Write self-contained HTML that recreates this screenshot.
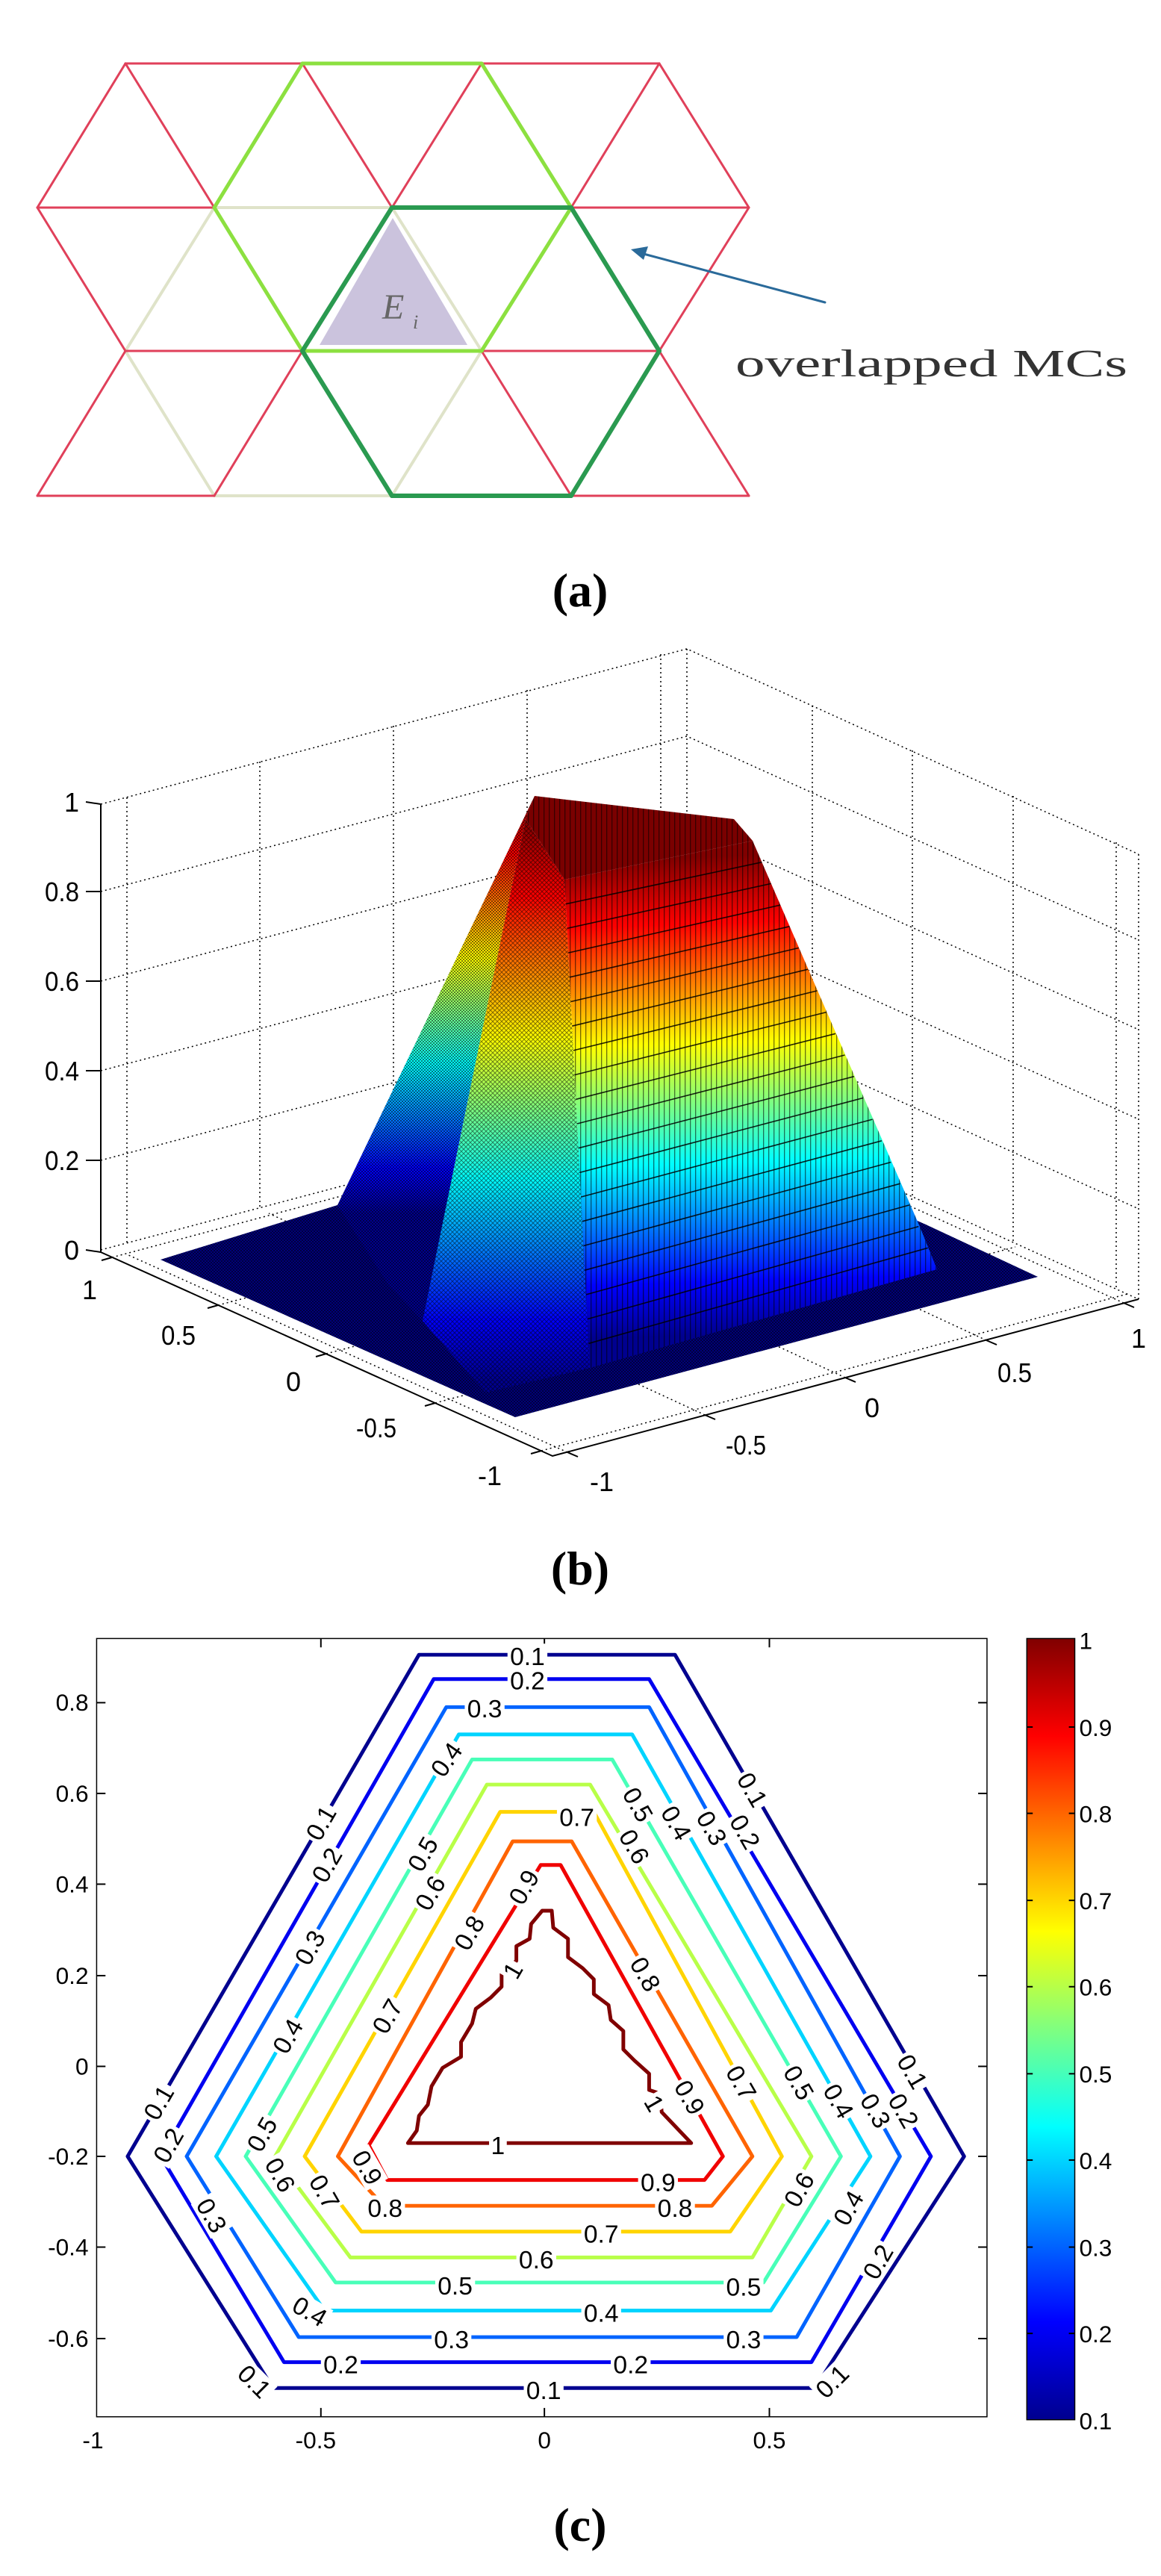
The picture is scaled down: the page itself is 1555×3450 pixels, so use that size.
<!DOCTYPE html>
<html><head><meta charset="utf-8">
<style>html,body{margin:0;padding:0;background:#fff}svg{display:block}</style>
</head><body>
<svg xmlns="http://www.w3.org/2000/svg" width="1555" height="3450" viewBox="0 0 1555 3450">
<defs>
<linearGradient id="jetL" gradientUnits="userSpaceOnUse" x1="0" y1="1625" x2="0" y2="1066">
<stop offset="0" stop-color="#00008F"/><stop offset="0.11" stop-color="#0000FF"/><stop offset="0.36" stop-color="#00FFFF"/><stop offset="0.61" stop-color="#FFFF00"/><stop offset="0.86" stop-color="#FF0000"/><stop offset="1" stop-color="#800000"/></linearGradient>
<linearGradient id="jetM" gradientUnits="userSpaceOnUse" x1="0" y1="1850" x2="0" y2="1097">
<stop offset="0" stop-color="#00008F"/><stop offset="0.11" stop-color="#0000FF"/><stop offset="0.36" stop-color="#00FFFF"/><stop offset="0.61" stop-color="#FFFF00"/><stop offset="0.86" stop-color="#FF0000"/><stop offset="1" stop-color="#800000"/></linearGradient>
<linearGradient id="jetF" gradientUnits="userSpaceOnUse" x1="880" y1="1790" x2="860" y2="1150">
<stop offset="0" stop-color="#00008F"/><stop offset="0.11" stop-color="#0000FF"/><stop offset="0.36" stop-color="#00FFFF"/><stop offset="0.61" stop-color="#FFFF00"/><stop offset="0.86" stop-color="#FF0000"/><stop offset="1" stop-color="#800000"/></linearGradient>
<linearGradient id="cbar" x1="0" y1="1" x2="0" y2="0">
<stop offset="0" stop-color="#00008F"/><stop offset="0.125" stop-color="#0000FF"/><stop offset="0.375" stop-color="#00FFFF"/><stop offset="0.625" stop-color="#FFFF00"/><stop offset="0.875" stop-color="#FF0000"/><stop offset="1" stop-color="#800000"/></linearGradient>
<pattern id="vl" width="7" height="7" patternUnits="userSpaceOnUse"><rect width="1.3" height="7" fill="#000" opacity="0.55"/></pattern>
<pattern id="xh" width="6" height="6" patternUnits="userSpaceOnUse"><path d="M0,0L6,6M6,0L0,6" stroke="#000" stroke-width="1" opacity="0.5"/></pattern>
<pattern id="dk" width="4" height="4" patternUnits="userSpaceOnUse"><rect width="2" height="2" fill="#000" opacity="0.5"/><rect x="2" y="2" width="2" height="2" fill="#000" opacity="0.5"/></pattern>
</defs>

<!-- (a) -->
<g stroke-linecap="round" fill="none">
<polygon points="526,292 428,462 626,462" fill="#cbc3dd" stroke="none"/>
<!-- pale -->
<g stroke="#dfe3c9" stroke-width="4">
<line x1="287" y1="278" x2="525" y2="278"/><line x1="287" y1="664" x2="525" y2="664"/>
<line x1="287" y1="278" x2="168" y2="470"/><line x1="525" y1="278" x2="645" y2="470"/>
<line x1="168" y1="470" x2="287" y2="664"/><line x1="645" y1="470" x2="525" y2="664"/>
</g>
<g stroke="#e0405a" stroke-width="3">
<line x1="168" y1="85" x2="405" y2="85"/><line x1="645" y1="85" x2="883" y2="85"/>
<line x1="50" y1="278" x2="287" y2="278"/><line x1="765" y1="278" x2="1003" y2="278"/>
<line x1="168" y1="470" x2="405" y2="470"/><line x1="645" y1="470" x2="883" y2="470"/>
<line x1="50" y1="664" x2="287" y2="664"/><line x1="765" y1="664" x2="1003" y2="664"/>
<line x1="168" y1="85" x2="50" y2="278"/><line x1="168" y1="85" x2="287" y2="278"/>
<line x1="405" y1="85" x2="525" y2="278"/><line x1="645" y1="85" x2="525" y2="278"/>
<line x1="883" y1="85" x2="765" y2="278"/><line x1="883" y1="85" x2="1003" y2="278"/>
<line x1="50" y1="278" x2="168" y2="470"/><line x1="1003" y1="278" x2="883" y2="470"/>
<line x1="168" y1="470" x2="50" y2="664"/><line x1="405" y1="470" x2="287" y2="664"/>
<line x1="645" y1="470" x2="765" y2="664"/><line x1="883" y1="470" x2="1003" y2="664"/>
</g>
<g stroke="#8ce040" stroke-width="5">
<line x1="405" y1="85" x2="645" y2="85"/><line x1="405" y1="470" x2="645" y2="470"/>
<line x1="405" y1="85" x2="287" y2="278"/><line x1="645" y1="85" x2="765" y2="278"/>
<line x1="287" y1="278" x2="405" y2="470"/><line x1="765" y1="278" x2="645" y2="470"/>
</g>
<g stroke="#2a9a50" stroke-width="6">
<line x1="525" y1="278" x2="765" y2="278"/><line x1="525" y1="664" x2="765" y2="664"/>
<line x1="525" y1="278" x2="405" y2="470"/><line x1="765" y1="278" x2="883" y2="470"/>
<line x1="405" y1="470" x2="525" y2="664"/><line x1="883" y1="470" x2="765" y2="664"/>
</g>
<line x1="1105" y1="405" x2="862" y2="340" stroke="#2a6a9a" stroke-width="3"/>
</g>
<polygon points="845,334 868,330 862,348" fill="#2a6a9a"/>
<text x="512" y="427" font-family="Liberation Serif, serif" font-style="italic" font-size="48" fill="#666">E</text>
<text x="553" y="440" font-family="Liberation Serif, serif" font-style="italic" font-size="26" fill="#666">i</text>
<text x="985" y="504" font-family="Liberation Serif, serif" font-size="52" fill="#333" textLength="525" lengthAdjust="spacingAndGlyphs">overlapped MCs</text>
<text x="777" y="812" text-anchor="middle" font-family="Liberation Serif, serif" font-weight="bold" font-size="64">(a)</text>

<!-- (b) -->
<g stroke="#000" stroke-width="1.5" stroke-dasharray="2,4" fill="none">
<polyline points="135,1077 920,869 1525,1144"/>
<polyline points="135,1194 920,986 1525,1259"/>
<polyline points="135,1314 920,1106 1525,1379"/>
<polyline points="135,1434 920,1226 1525,1499"/>
<polyline points="135,1554 920,1346 1525,1619"/>
<polyline points="135,1674 920,1466 1525,1740"/>
<line x1="920" y1="869" x2="920" y2="1467"/>
<line x1="170" y1="1068" x2="170" y2="1668"/><line x1="348" y1="1020" x2="348" y2="1620"/>
<line x1="527" y1="972" x2="527" y2="1572"/><line x1="706" y1="924" x2="706" y2="1524"/>
<line x1="885" y1="876" x2="885" y2="1476"/>
<line x1="1088" y1="945" x2="1088" y2="1543"/><line x1="1222" y1="1005" x2="1222" y2="1603"/>
<line x1="1357" y1="1066" x2="1357" y2="1664"/><line x1="1495" y1="1128" x2="1495" y2="1726"/>
<line x1="1525" y1="1144" x2="1525" y2="1740"/>
<line x1="150" y1="1684" x2="935" y2="1474"/><line x1="1505" y1="1745" x2="920" y2="1480"/>
<line x1="760" y1="1945" x2="170" y2="1680"/><line x1="725" y1="1943" x2="1510" y2="1733"/>
<line x1="944" y1="1895" x2="360" y2="1625"/><line x1="1132" y1="1845" x2="550" y2="1575"/>
<line x1="1321" y1="1795" x2="740" y2="1525"/>
<line x1="292" y1="1748" x2="1085" y2="1540"/><line x1="437" y1="1813" x2="1225" y2="1605"/>
<line x1="583" y1="1879" x2="1360" y2="1670"/>
</g>
<!-- surface -->
<polygon points="215,1687 452,1614 900,1490 1240,1640 1390,1710 690,1898" fill="#00007a"/>
<polygon points="215,1687 452,1614 900,1490 1240,1640 1390,1710 690,1898" fill="url(#dk)"/>
<polygon points="452,1614 716,1066 704,1097 566,1769 520,1720" fill="url(#jetL)"/>
<polygon points="452,1614 716,1066 704,1097 566,1769 520,1720" fill="url(#dk)"/>
<polygon points="704,1097 756,1178 790,1832 650,1865 566,1769" fill="url(#jetM)"/>
<polygon points="704,1097 756,1178 790,1832 650,1865 566,1769" fill="url(#xh)"/>
<polygon points="756,1178 1008,1126 1232,1643 1255,1700 790,1832" fill="url(#jetF)"/>
<polygon points="756,1178 1008,1126 1232,1643 1255,1700 790,1832" fill="url(#vl)"/>
<g stroke="#000" stroke-width="1.6" opacity="0.85">
<line x1="757.7" y1="1210.7" x2="1020.4" y2="1154.7"/><line x1="759.4" y1="1243.4" x2="1032.7" y2="1183.4"/>
<line x1="761.1" y1="1276.1" x2="1045.1" y2="1212.1"/><line x1="762.8" y1="1308.8" x2="1057.4" y2="1240.8"/>
<line x1="764.5" y1="1341.5" x2="1069.8" y2="1269.5"/><line x1="766.2" y1="1374.2" x2="1082.1" y2="1298.2"/>
<line x1="767.9" y1="1406.9" x2="1094.5" y2="1326.9"/><line x1="769.6" y1="1439.6" x2="1106.8" y2="1355.6"/>
<line x1="771.3" y1="1472.3" x2="1119.2" y2="1384.3"/><line x1="773" y1="1505" x2="1131.5" y2="1413"/>
<line x1="774.7" y1="1537.7" x2="1143.9" y2="1441.7"/><line x1="776.4" y1="1570.4" x2="1156.2" y2="1470.4"/>
<line x1="778.1" y1="1603.1" x2="1168.6" y2="1499.1"/><line x1="779.8" y1="1635.8" x2="1180.9" y2="1527.8"/>
<line x1="781.5" y1="1668.5" x2="1193.3" y2="1556.5"/><line x1="783.2" y1="1701.2" x2="1205.6" y2="1585.2"/>
<line x1="784.9" y1="1733.9" x2="1218" y2="1613.9"/><line x1="786.6" y1="1766.6" x2="1230.3" y2="1642.6"/>
<line x1="788.3" y1="1799.3" x2="1242.7" y2="1671.3"/>
</g>
<polygon points="716,1066 983,1097 1008,1126 756,1178 704,1097" fill="#7a0000"/>
<polygon points="716,1066 983,1097 1008,1126 756,1178 704,1097" fill="url(#vl)"/>
<!-- solid axes -->
<g stroke="#000" stroke-width="2" fill="none">
<polyline points="135,1077 135,1677 740,1950 1525,1740"/>
<line x1="115" y1="1074" x2="135" y2="1077"/><line x1="115" y1="1194" x2="135" y2="1194"/>
<line x1="115" y1="1314" x2="135" y2="1314"/><line x1="115" y1="1434" x2="135" y2="1434"/>
<line x1="115" y1="1554" x2="135" y2="1554"/><line x1="115" y1="1674" x2="135" y2="1677"/>
<line x1="150" y1="1684" x2="136" y2="1688"/><line x1="292" y1="1748" x2="278" y2="1752"/>
<line x1="437" y1="1813" x2="423" y2="1817"/><line x1="583" y1="1879" x2="569" y2="1883"/>
<line x1="725" y1="1943" x2="711" y2="1947"/>
<line x1="760" y1="1945" x2="774" y2="1951"/><line x1="944" y1="1895" x2="958" y2="1901"/>
<line x1="1132" y1="1845" x2="1146" y2="1851"/><line x1="1321" y1="1795" x2="1335" y2="1801"/>
<line x1="1505" y1="1745" x2="1519" y2="1751"/>
</g>
<g font-family="Liberation Sans, sans-serif" font-size="36" fill="#000">
<text x="106" y="1087" text-anchor="end">1</text>
<text x="106" y="1207" text-anchor="end" textLength="46" lengthAdjust="spacingAndGlyphs">0.8</text>
<text x="106" y="1327" text-anchor="end" textLength="46" lengthAdjust="spacingAndGlyphs">0.6</text>
<text x="106" y="1447" text-anchor="end" textLength="46" lengthAdjust="spacingAndGlyphs">0.4</text>
<text x="106" y="1567" text-anchor="end" textLength="46" lengthAdjust="spacingAndGlyphs">0.2</text>
<text x="106" y="1687" text-anchor="end">0</text>
<text x="110" y="1740">1</text>
<text x="216" y="1801" textLength="46" lengthAdjust="spacingAndGlyphs">0.5</text>
<text x="383" y="1863">0</text>
<text x="477" y="1925" textLength="54" lengthAdjust="spacingAndGlyphs">-0.5</text>
<text x="640" y="1989">-1</text>
<text x="790" y="1997">-1</text>
<text x="972" y="1948" textLength="54" lengthAdjust="spacingAndGlyphs">-0.5</text>
<text x="1158" y="1898">0</text>
<text x="1336" y="1851" textLength="46" lengthAdjust="spacingAndGlyphs">0.5</text>
<text x="1515" y="1805">1</text>
</g>
<text x="777" y="2122" text-anchor="middle" font-family="Liberation Serif, serif" font-weight="bold" font-size="64">(b)</text>

<!-- (c) -->
<g transform="matrix(0.988 0 0 0.988 0 1900)">
<rect x="131" y="298" width="1207" height="1055" fill="none" stroke="#000" stroke-width="1.5"/>
<g stroke="#000" stroke-width="2">
<line x1="131" y1="385" x2="143" y2="385"/><line x1="131" y1="508" x2="143" y2="508"/><line x1="131" y1="631" x2="143" y2="631"/><line x1="131" y1="755" x2="143" y2="755"/><line x1="131" y1="878" x2="143" y2="878"/><line x1="131" y1="1000" x2="143" y2="1000"/><line x1="131" y1="1123" x2="143" y2="1123"/><line x1="131" y1="1247" x2="143" y2="1247"/>
<line x1="1326" y1="385" x2="1338" y2="385"/><line x1="1326" y1="508" x2="1338" y2="508"/><line x1="1326" y1="631" x2="1338" y2="631"/><line x1="1326" y1="755" x2="1338" y2="755"/><line x1="1326" y1="878" x2="1338" y2="878"/><line x1="1326" y1="1000" x2="1338" y2="1000"/><line x1="1326" y1="1123" x2="1338" y2="1123"/><line x1="1326" y1="1247" x2="1338" y2="1247"/>
<line x1="435" y1="1353" x2="435" y2="1341"/><line x1="738" y1="1353" x2="738" y2="1341"/><line x1="1043" y1="1353" x2="1043" y2="1341"/>
<line x1="435" y1="298" x2="435" y2="310"/><line x1="738" y1="298" x2="738" y2="310"/><line x1="1043" y1="298" x2="1043" y2="310"/>
</g>
<g font-family="Liberation Sans, sans-serif" font-size="32" fill="#000" text-anchor="end">
<text x="120" y="396">0.8</text><text x="120" y="519">0.6</text><text x="120" y="642">0.4</text><text x="120" y="766">0.2</text><text x="120" y="889">0</text><text x="120" y="1011">-0.2</text><text x="120" y="1134">-0.4</text><text x="120" y="1258">-0.6</text>
</g>
<g font-family="Liberation Sans, sans-serif" font-size="32" fill="#000" text-anchor="middle">
<text x="126" y="1396">-1</text><text x="428" y="1396">-0.5</text><text x="738" y="1396">0</text><text x="1043" y="1396">0.5</text>
</g>
<g fill="none" stroke-width="5" stroke-linejoin="round">
<polygon stroke="#00008F" points="370,1314 173,1000 568,320 915,320 1307,1000 1105,1314"/>
<polygon stroke="#0000F0" points="385,1279 218,1000 588,353 880,353 1262,1000 1100,1279"/>
<polygon stroke="#0064FF" points="405,1245 253,1000 605,391 880,391 1220,1000 1080,1245"/>
<polygon stroke="#00D4FF" points="440,1209 293,1000 622,428 857,428 1180,1000 1045,1209"/>
<polygon stroke="#48FFB8" points="455,1171 333,1000 640,462 830,462 1140,1000 1035,1171"/>
<polygon stroke="#B8FF48" points="475,1137 373,1000 660,496 800,496 1100,1000 1020,1137"/>
<polygon stroke="#FFD400" points="490,1102 413,1000 678,533 805,533 1060,1000 990,1102"/>
<polygon stroke="#FF6400" points="520,1067 458,1000 695,573 775,573 1020,1000 965,1067"/>
<polygon stroke="#F00000" points="525,1032 500,985 733,605 760,605 980,1000 955,1032"/>
<polygon stroke="#800000" points="553,982 565,965 568,945 580,930 585,905 600,880 625,865 625,845 640,820 645,800 665,785 680,770 680,750 700,735 700,715 718,705 720,685 735,667 748,667 750,690 770,705 770,730 790,745 805,760 805,780 825,795 828,815 845,830 845,855 860,870 880,888 880,910 895,915 897,940 937,982"/>
</g>
<g font-family="Liberation Sans, sans-serif" font-size="34" fill="#000" text-anchor="middle">
<g transform="translate(715,322)"><rect x="-27" y="-17" width="54" height="34" fill="#fff"/><text y="12">0.1</text></g>
<g transform="translate(715,355)"><rect x="-27" y="-17" width="54" height="34" fill="#fff"/><text y="12">0.2</text></g>
<g transform="translate(657,393)"><rect x="-27" y="-17" width="54" height="34" fill="#fff"/><text y="12">0.3</text></g>
<g transform="translate(605,462) rotate(-55)"><rect x="-27" y="-17" width="54" height="34" fill="#fff"/><text y="12">0.4</text></g>
<g transform="translate(435,548) rotate(-60)"><rect x="-27" y="-17" width="54" height="34" fill="#fff"/><text y="12">0.1</text></g>
<g transform="translate(443,605) rotate(-60)"><rect x="-27" y="-17" width="54" height="34" fill="#fff"/><text y="12">0.2</text></g>
<g transform="translate(573,590) rotate(-60)"><rect x="-27" y="-17" width="54" height="34" fill="#fff"/><text y="12">0.5</text></g>
<g transform="translate(583,643) rotate(-60)"><rect x="-27" y="-17" width="54" height="34" fill="#fff"/><text y="12">0.6</text></g>
<g transform="translate(782,540)"><rect x="-27" y="-17" width="54" height="34" fill="#fff"/><text y="12">0.7</text></g>
<g transform="translate(710,635) rotate(-60)"><rect x="-27" y="-17" width="54" height="34" fill="#fff"/><text y="12">0.9</text></g>
<g transform="translate(636,697) rotate(-60)"><rect x="-27" y="-17" width="54" height="34" fill="#fff"/><text y="12">0.8</text></g>
<g transform="translate(695,748) rotate(-60)"><rect x="-12" y="-17" width="24" height="34" fill="#fff"/><text y="12">1</text></g>
<g transform="translate(420,717) rotate(-60)"><rect x="-27" y="-17" width="54" height="34" fill="#fff"/><text y="12">0.3</text></g>
<g transform="translate(525,810) rotate(-60)"><rect x="-27" y="-17" width="54" height="34" fill="#fff"/><text y="12">0.7</text></g>
<g transform="translate(390,837) rotate(-60)"><rect x="-27" y="-17" width="54" height="34" fill="#fff"/><text y="12">0.4</text></g>
<g transform="translate(215,927) rotate(-60)"><rect x="-27" y="-17" width="54" height="34" fill="#fff"/><text y="12">0.1</text></g>
<g transform="translate(228,985) rotate(-60)"><rect x="-27" y="-17" width="54" height="34" fill="#fff"/><text y="12">0.2</text></g>
<g transform="translate(355,970) rotate(-60)"><rect x="-27" y="-17" width="54" height="34" fill="#fff"/><text y="12">0.5</text></g>
<g transform="translate(380,1025) rotate(60)"><rect x="-27" y="-17" width="54" height="34" fill="#fff"/><text y="12">0.6</text></g>
<g transform="translate(440,1048) rotate(60)"><rect x="-27" y="-17" width="54" height="34" fill="#fff"/><text y="12">0.7</text></g>
<g transform="translate(498,1015) rotate(60)"><rect x="-27" y="-17" width="54" height="34" fill="#fff"/><text y="12">0.9</text></g>
<g transform="translate(522,1070)"><rect x="-27" y="-17" width="54" height="34" fill="#fff"/><text y="12">0.8</text></g>
<g transform="translate(287,1080) rotate(60)"><rect x="-27" y="-17" width="54" height="34" fill="#fff"/><text y="12">0.3</text></g>
<g transform="translate(420,1210) rotate(30)"><rect x="-27" y="-17" width="54" height="34" fill="#fff"/><text y="12">0.4</text></g>
<g transform="translate(345,1305) rotate(45)"><rect x="-27" y="-17" width="54" height="34" fill="#fff"/><text y="12">0.1</text></g>
<g transform="translate(462,1282)"><rect x="-27" y="-17" width="54" height="34" fill="#fff"/><text y="12">0.2</text></g>
<g transform="translate(612,1248)"><rect x="-27" y="-17" width="54" height="34" fill="#fff"/><text y="12">0.3</text></g>
<g transform="translate(617,1175)"><rect x="-27" y="-17" width="54" height="34" fill="#fff"/><text y="12">0.5</text></g>
<g transform="translate(727,1140)"><rect x="-27" y="-17" width="54" height="34" fill="#fff"/><text y="12">0.6</text></g>
<g transform="translate(815,1105)"><rect x="-27" y="-17" width="54" height="34" fill="#fff"/><text y="12">0.7</text></g>
<g transform="translate(915,1070)"><rect x="-27" y="-17" width="54" height="34" fill="#fff"/><text y="12">0.8</text></g>
<g transform="translate(892,1035)"><rect x="-27" y="-17" width="54" height="34" fill="#fff"/><text y="12">0.9</text></g>
<g transform="translate(675,985)"><rect x="-12" y="-17" width="24" height="34" fill="#fff"/><text y="12">1</text></g>
<g transform="translate(815,1212)"><rect x="-27" y="-17" width="54" height="34" fill="#fff"/><text y="12">0.4</text></g>
<g transform="translate(1008,1177)"><rect x="-27" y="-17" width="54" height="34" fill="#fff"/><text y="12">0.5</text></g>
<g transform="translate(1008,1248)"><rect x="-27" y="-17" width="54" height="34" fill="#fff"/><text y="12">0.3</text></g>
<g transform="translate(855,1282)"><rect x="-27" y="-17" width="54" height="34" fill="#fff"/><text y="12">0.2</text></g>
<g transform="translate(737,1317)"><rect x="-27" y="-17" width="54" height="34" fill="#fff"/><text y="12">0.1</text></g>
<g transform="translate(1128,1305) rotate(-45)"><rect x="-27" y="-17" width="54" height="34" fill="#fff"/><text y="12">0.1</text></g>
<g transform="translate(1190,1143) rotate(-60)"><rect x="-27" y="-17" width="54" height="34" fill="#fff"/><text y="12">0.2</text></g>
<g transform="translate(1150,1070) rotate(-60)"><rect x="-27" y="-17" width="54" height="34" fill="#fff"/><text y="12">0.4</text></g>
<g transform="translate(1083,1045) rotate(-60)"><rect x="-27" y="-17" width="54" height="34" fill="#fff"/><text y="12">0.6</text></g>
<g transform="translate(1020,503) rotate(60)"><rect x="-27" y="-17" width="54" height="34" fill="#fff"/><text y="12">0.1</text></g>
<g transform="translate(1010,560) rotate(60)"><rect x="-27" y="-17" width="54" height="34" fill="#fff"/><text y="12">0.2</text></g>
<g transform="translate(965,555) rotate(60)"><rect x="-27" y="-17" width="54" height="34" fill="#fff"/><text y="12">0.3</text></g>
<g transform="translate(917,548) rotate(60)"><rect x="-27" y="-17" width="54" height="34" fill="#fff"/><text y="12">0.4</text></g>
<g transform="translate(865,523) rotate(60)"><rect x="-27" y="-17" width="54" height="34" fill="#fff"/><text y="12">0.5</text></g>
<g transform="translate(860,580) rotate(60)"><rect x="-27" y="-17" width="54" height="34" fill="#fff"/><text y="12">0.6</text></g>
<g transform="translate(875,753) rotate(60)"><rect x="-27" y="-17" width="54" height="34" fill="#fff"/><text y="12">0.8</text></g>
<g transform="translate(1005,900) rotate(60)"><rect x="-27" y="-17" width="54" height="34" fill="#fff"/><text y="12">0.7</text></g>
<g transform="translate(935,920) rotate(60)"><rect x="-27" y="-17" width="54" height="34" fill="#fff"/><text y="12">0.9</text></g>
<g transform="translate(887,928) rotate(60)"><rect x="-12" y="-17" width="24" height="34" fill="#fff"/><text y="12">1</text></g>
<g transform="translate(1083,900) rotate(60)"><rect x="-27" y="-17" width="54" height="34" fill="#fff"/><text y="12">0.5</text></g>
<g transform="translate(1137,925) rotate(60)"><rect x="-27" y="-17" width="54" height="34" fill="#fff"/><text y="12">0.4</text></g>
<g transform="translate(1187,938) rotate(60)"><rect x="-27" y="-17" width="54" height="34" fill="#fff"/><text y="12">0.3</text></g>
<g transform="translate(1225,938) rotate(60)"><rect x="-27" y="-17" width="54" height="34" fill="#fff"/><text y="12">0.2</text></g>
<g transform="translate(1237,885) rotate(60)"><rect x="-27" y="-17" width="54" height="34" fill="#fff"/><text y="12">0.1</text></g>
</g>
<!-- colorbar -->
<rect x="1392" y="298" width="65" height="1059" fill="url(#cbar)" stroke="#000" stroke-width="1.5"/>
<g stroke="#000" stroke-width="2">
<line x1="1392" y1="418" x2="1400" y2="418"/><line x1="1449" y1="418" x2="1457" y2="418"/>
<line x1="1392" y1="535" x2="1400" y2="535"/><line x1="1449" y1="535" x2="1457" y2="535"/>
<line x1="1392" y1="653" x2="1400" y2="653"/><line x1="1449" y1="653" x2="1457" y2="653"/>
<line x1="1392" y1="770" x2="1400" y2="770"/><line x1="1449" y1="770" x2="1457" y2="770"/>
<line x1="1392" y1="888" x2="1400" y2="888"/><line x1="1449" y1="888" x2="1457" y2="888"/>
<line x1="1392" y1="1005" x2="1400" y2="1005"/><line x1="1449" y1="1005" x2="1457" y2="1005"/>
<line x1="1392" y1="1123" x2="1400" y2="1123"/><line x1="1449" y1="1123" x2="1457" y2="1123"/>
<line x1="1392" y1="1240" x2="1400" y2="1240"/><line x1="1449" y1="1240" x2="1457" y2="1240"/>
</g>
<g font-family="Liberation Sans, sans-serif" font-size="32" fill="#000">
<text x="1463" y="312">1</text><text x="1463" y="430">0.9</text><text x="1463" y="547">0.8</text><text x="1463" y="665">0.7</text><text x="1463" y="782">0.6</text><text x="1463" y="900">0.5</text><text x="1463" y="1017">0.4</text><text x="1463" y="1135">0.3</text><text x="1463" y="1252">0.2</text><text x="1463" y="1370">0.1</text>
</g>
</g>
<text x="777" y="3403" text-anchor="middle" font-family="Liberation Serif, serif" font-weight="bold" font-size="64">(c)</text>
</svg>
</body></html>
